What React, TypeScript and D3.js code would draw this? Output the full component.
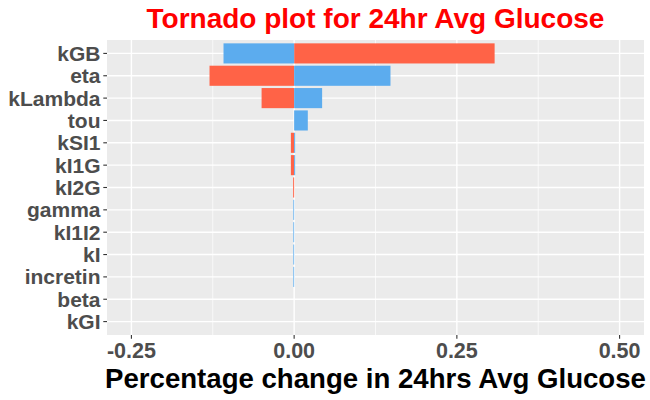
import * as d3 from "d3";

const WIDTH = 650;
const HEIGHT = 400;
const PANEL = { left: 107, right: 644, top: 40, bottom: 335 };

// parameters, top to bottom
const params = ["kGB", "eta", "kLambda", "tou", "kSI1", "kI1G", "kI2G", "gamma", "kI1I2", "kI", "incretin", "beta", "kGI"];
// percentage change
const redVals = [0.308, -0.13, -0.05, 0, -0.005, -0.005, -0.0015, 0, 0, 0, 0, 0, 0];
const blueVals = [-0.1085, 0.148, 0.043, 0.021, 0.0015, 0.0015, 0, -0.0012, -0.0012, -0.0012, -0.0012, 0, 0];
const xTicks = [-0.25, 0, 0.25, 0.5];
const xMinor = [-0.125, 0.125, 0.375];

const RED = "#FF6347";
const BLUE = "#5CACEE";
const FONT = '"Liberation Sans", Arial, sans-serif';

export default function App() {
  // limits -0.25..0.5 with 5% expansion, like ggplot
  const xScale = d3.scaleLinear().domain([-0.2875, 0.5375]).range([PANEL.left, PANEL.right]);
  const yScale = d3
    .scaleBand<string>()
    .domain(params)
    .range([PANEL.top, PANEL.bottom])
    .paddingInner(0.1)
    .paddingOuter(0.15);
  const bw = yScale.bandwidth();
  const yMid = (p: string) => (yScale(p) ?? 0) + bw / 2;

  const bar = (v: number, p: string, color: string, key: string) => {
    const x0 = xScale(Math.min(0, v));
    const x1 = xScale(Math.max(0, v));
    if (x1 - x0 <= 0) return null;
    return <rect key={key} x={x0} y={yScale(p)} width={x1 - x0} height={bw} fill={color} />;
  };

  // ggplot prints a plain hyphen for negatives
  const fmt = (t: number) => d3.format(".2f")(t).replace("\u2212", "-");

  return (
    <svg width={WIDTH} height={HEIGHT} style={{ position: "absolute", left: 0, top: 0, background: "#fff" }} fontFamily={FONT}>
      {/* panel */}
      <rect x={PANEL.left} y={PANEL.top} width={PANEL.right - PANEL.left} height={PANEL.bottom - PANEL.top} fill="#EBEBEB" />
      {xMinor.map((t) => (
        <line key={"mn" + t} x1={xScale(t)} x2={xScale(t)} y1={PANEL.top} y2={PANEL.bottom} stroke="#fff" strokeWidth={0.7} />
      ))}
      {xTicks.map((t) => (
        <line key={"mj" + t} x1={xScale(t)} x2={xScale(t)} y1={PANEL.top} y2={PANEL.bottom} stroke="#fff" strokeWidth={1.4} />
      ))}
      {params.map((p) => (
        <line key={"gy" + p} x1={PANEL.left} x2={PANEL.right} y1={yMid(p)} y2={yMid(p)} stroke="#fff" strokeWidth={1.4} />
      ))}

      {/* bars */}
      {params.map((p, i) => bar(redVals[i], p, RED, "r" + p))}
      {params.map((p, i) => bar(blueVals[i], p, BLUE, "b" + p))}

      {/* y axis */}
      {params.map((p) => (
        <g key={"yt" + p}>
          <line x1={PANEL.left - 3.7} x2={PANEL.left} y1={yMid(p)} y2={yMid(p)} stroke="#333" strokeWidth={1.1} />
          <text x={PANEL.left - 6.5} y={yMid(p)} dy="0.36em" textAnchor="end" fontSize={21} fontWeight="bold" fill="#4D4D4D">
            {p}
          </text>
        </g>
      ))}

      {/* x axis */}
      {xTicks.map((t) => (
        <g key={"xt" + t}>
          <line x1={xScale(t)} x2={xScale(t)} y1={PANEL.bottom} y2={PANEL.bottom + 3.7} stroke="#333" strokeWidth={1.1} />
          <text x={xScale(t)} y={358} textAnchor="middle" fontSize={21.5} fontWeight="bold" fill="#4D4D4D">
            {fmt(t)}
          </text>
        </g>
      ))}

      <text x={(PANEL.left + PANEL.right) / 2} y={388} textAnchor="middle" fontSize={27.6} fontWeight="bold" fill="#000">
        Percentage change in 24hrs Avg Glucose
      </text>
      <text x={(PANEL.left + PANEL.right) / 2} y={28} textAnchor="middle" fontSize={28} fontWeight="bold" fill="#FF0000">
        Tornado plot for 24hr Avg Glucose
      </text>
    </svg>
  );
}
